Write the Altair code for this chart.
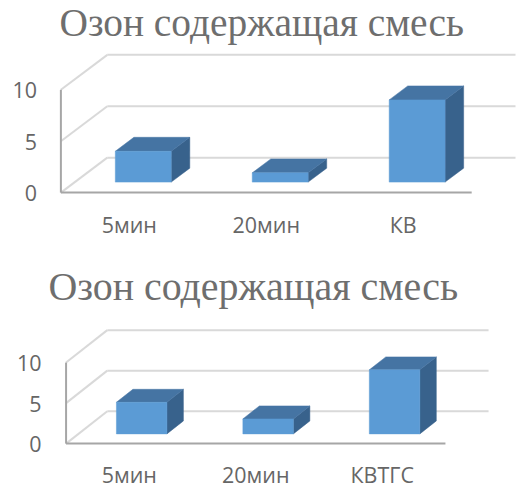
import altair as alt
import pandas as pd

# ---- chart content -------------------------------------------------------
TITLE = "Озон содержащая смесь"
CATS_TOP = ["5мин", "20мин", "КВ"]
VALS_TOP = [3.0, 0.9, 8.0]
CATS_BOTTOM = ["5мин", "20мин", "КВТГС"]
VALS_BOTTOM = [3.9, 1.85, 7.9]
TICKS = [0, 5, 10]

# ---- styling -------------------------------------------------------------
FRONT = "#5b9bd5"
TOP = "#4574a3"
SIDE = "#38628c"
GRID = "#d9d9d9"
AXIS = "#a6a6a6"
TEXT = "#666666"
TITLE_COLOR = "#6e6e6e"
LABEL_FONT = "Open Sans"
TITLE_FONT = "Liberation Serif"

# pixel geometry of each 3-D panel
GEOM_TOP = dict(width=455.5, height=138.5, x0=0.0, band=137.2, unit=10.3,
                depth_x=46.5, depth_y=35.0, bar_w=56.0, label_dy=40.8,
                label_pad=24.5, title_size=39.5, title_dx=-26.5, title_offset=-21.5)
GEOM_BOTTOM = dict(width=428.5, height=114.5, x0=5.2, band=126.7, unit=8.12,
                   depth_x=41.3, depth_y=32.5, bar_w=50.6, label_dy=39.8,
                   label_pad=19.8, title_size=40, title_dx=-21.5, title_offset=-10.5)

F_FRONT, F_BACK = 0.3, 0.7   # bar position inside the depth of the floor


def panel(cats, vals, g):
    B, U = g["band"], g["unit"]
    ddx = g["depth_x"] / B
    ddy = g["depth_y"] / U
    half = g["bar_w"] / B / 2
    xmin = -g["x0"] / B
    xmax = (g["width"] - g["x0"]) / B
    ymax = g["height"] / U
    ncat = len(cats)

    xs = alt.Scale(domain=[xmin, xmax], nice=False, zero=False)
    ys = alt.Scale(domain=[0, ymax], nice=False, zero=False)
    yax = alt.Axis(values=TICKS, grid=False, domain=False, ticks=False,
                   labelPadding=g["label_pad"], labelFont=LABEL_FONT,
                   labelFontSize=21.5, labelColor=TEXT, labelOffset=2, title=None)

    def X(f):
        return alt.X(f, type="quantitative", scale=xs, axis=None)

    def Y(f):
        return alt.Y(f, type="quantitative", scale=ys, axis=yax)

    # back wall gridlines and the slanted lines on the side wall
    back = pd.DataFrame({"x": [ddx] * len(TICKS), "x2": [xmax] * len(TICKS),
                         "y": [t + ddy for t in TICKS]})
    diag = pd.DataFrame({"x": [0.0] * len(TICKS), "x2": [ddx] * len(TICKS),
                         "y": [float(t) for t in TICKS],
                         "y2": [t + ddy for t in TICKS]})
    back_l = alt.Chart(back).mark_rule(color=GRID, strokeWidth=2).encode(
        x=X("x"), x2="x2", y=Y("y"))
    diag_l = alt.Chart(diag).mark_rule(color=GRID, strokeWidth=2).encode(
        x=X("x"), x2="x2", y=Y("y"), y2="y2")

    # front vertical axis line and floor edge
    vaxis = pd.DataFrame({"x": [0.0], "y": [0.0], "y2": [float(TICKS[-1])]})
    floor = pd.DataFrame({"x": [0.0], "x2": [float(ncat)], "y": [0.0]})
    vaxis_l = alt.Chart(vaxis).mark_rule(color=AXIS, strokeWidth=2).encode(
        x=X("x"), y=Y("y"), y2="y2")
    floor_l = alt.Chart(floor).mark_rule(color=AXIS, strokeWidth=2).encode(
        x=X("x"), x2="x2", y=Y("y"))

    # bar faces
    fx, fy = F_FRONT * ddx, F_FRONT * ddy
    bdx, bdy = (F_BACK - F_FRONT) * ddx, (F_BACK - F_FRONT) * ddy
    front_rows, top_rows, side_rows = [], [], []
    for i, (c, v) in enumerate(zip(cats, vals)):
        xl = i + 0.5 + fx - half
        xr = i + 0.5 + fx + half
        front_rows.append({"cat": c, "x": xl, "x2": xr, "y": fy, "y2": fy + v})
        top_rows.append({"cat": c, "y": fy + v, "xa": xl, "xb": xr})
        top_rows.append({"cat": c, "y": fy + bdy + v, "xa": xl + bdx, "xb": xr + bdx})
        side_rows.append({"cat": c, "x": xr, "ya": fy, "yb": fy + v})
        side_rows.append({"cat": c, "x": xr + bdx, "ya": fy + bdy, "yb": fy + bdy + v})

    front_l = alt.Chart(pd.DataFrame(front_rows)).mark_rect(
        color=FRONT, stroke=FRONT, strokeWidth=0.5).encode(
        x=X("x"), x2="x2", y=Y("y"), y2="y2")
    top_l = alt.Chart(pd.DataFrame(top_rows)).mark_area(
        orient="horizontal", color=TOP, stroke=TOP, strokeWidth=0.5).encode(
        y=Y("y"), x=X("xa"), x2="xb", detail="cat:N")
    side_l = alt.Chart(pd.DataFrame(side_rows)).mark_area(
        orient="vertical", color=SIDE, stroke=SIDE, strokeWidth=0.5).encode(
        x=X("x"), y=Y("ya"), y2="yb", detail="cat:N")

    # category names along the front edge of the floor
    labels = pd.DataFrame({"cat": cats, "x": [i + 0.5 for i in range(ncat)],
                           "y": [0.0] * ncat})
    label_l = alt.Chart(labels).mark_text(
        baseline="alphabetic", align="center", dy=g["label_dy"], font=LABEL_FONT,
        fontSize=21.5, color=TEXT).encode(x=X("x"), y=Y("y"), text="cat:N")

    return alt.layer(back_l, diag_l, vaxis_l, floor_l, side_l, top_l, front_l,
                     label_l).properties(
        width=g["width"], height=g["height"],
        title=alt.TitleParams(TITLE, font=TITLE_FONT, fontSize=g["title_size"],
                              fontWeight="normal", color=TITLE_COLOR, anchor="middle",
                              frame="group", baseline="alphabetic",
                              dx=g["title_dx"], offset=g["title_offset"]))


chart = alt.vconcat(
    panel(CATS_TOP, VALS_TOP, GEOM_TOP),
    panel(CATS_BOTTOM, VALS_BOTTOM, GEOM_BOTTOM),
    spacing=136.5, bounds="flush",
).properties(
    padding={"left": 11, "top": 3, "right": 0, "bottom": 0},
).configure_view(stroke=None)

chart.save("out.html", embed_options={"renderer": "svg", "actions": False})
